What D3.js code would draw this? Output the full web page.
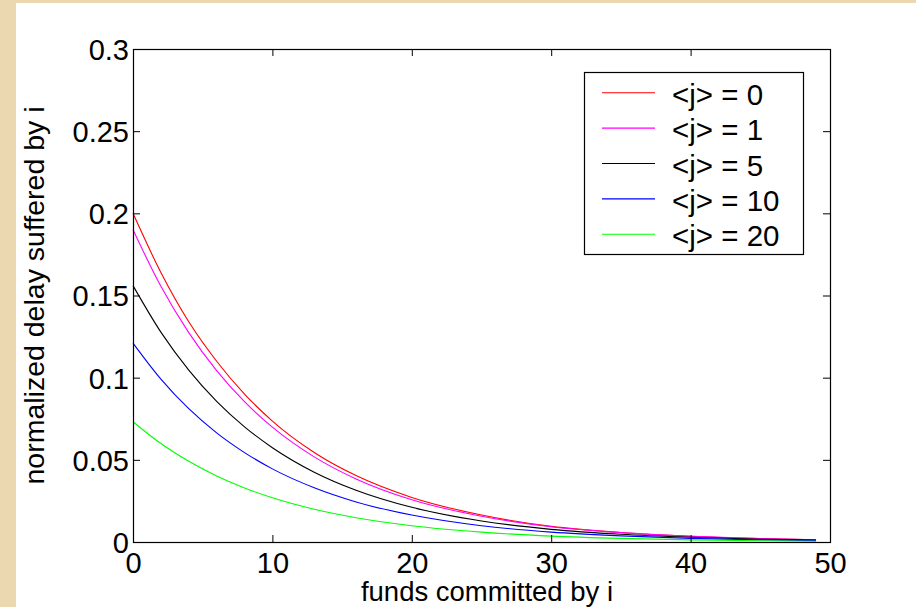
<!DOCTYPE html>
<html>
<head>
<meta charset="utf-8">
<script src="https://cdn.jsdelivr.net/npm/d3@7"></script>
<style>
  html, body { margin: 0; padding: 0; background: #ecd8b0; }
  svg { display: block; }
</style>
</head>
<body>
<div id="chart"></div>
<script>
// x positions of the sampled points (funds committed by i)
const xValues = [0, 2, 4, 6, 8, 10, 13, 16, 20, 25, 30, 35, 40, 45, 49];

// series values
const j0Values  = [0.200, 0.164, 0.134, 0.110, 0.090, 0.0736, 0.0545, 0.0404, 0.0271, 0.0164, 0.0095, 0.0058, 0.0035, 0.0021, 0.0014];
const j1Values  = [0.190, 0.1556, 0.1274, 0.1043, 0.0854, 0.0699, 0.0518, 0.0384, 0.0257, 0.0157, 0.0093, 0.0057, 0.0035, 0.0021, 0.0014];
const j5Values  = [0.156, 0.1277, 0.1046, 0.0856, 0.0701, 0.0574, 0.0425, 0.0315, 0.0211, 0.0128, 0.0077, 0.0047, 0.0029, 0.0017, 0.0012];
const j10Values = [0.121, 0.0991, 0.0811, 0.0664, 0.0544, 0.0445, 0.0330, 0.0244, 0.0164, 0.0099, 0.0060, 0.0037, 0.0022, 0.0013, 0.0009];
const j20Values = [0.0732, 0.0599, 0.0491, 0.0402, 0.0329, 0.0269, 0.0199, 0.0148, 0.0099, 0.0060, 0.0036, 0.0022, 0.0013, 0.0008, 0.0005];

const seriesNames = ['<j> = 0', '<j> = 1', '<j> = 5', '<j> = 10', '<j> = 20'];
const seriesColors = ['#ff0000', '#ff00ff', '#000000', '#0000ff', '#00ff00'];

const xTicks = [0, 10, 20, 30, 40, 50];
const yTicks = [0, 0.05, 0.1, 0.15, 0.2, 0.25, 0.3];
const yTickLabels = ['0', '0.05', '0.1', '0.15', '0.2', '0.25', '0.3'];

const WIDTH = 916;
const HEIGHT = 607;
const FONT = '"Liberation Sans", Arial, Helvetica, sans-serif';
const TICK_LEN = 7;

// plot area
const plot = { left: 133, top: 49, right: 830, bottom: 542 };

const svg = d3.select('#chart').append('svg')
    .attr('width', WIDTH)
    .attr('height', HEIGHT);

// white figure area on the beige page
svg.append('rect')
    .attr('x', 16).attr('y', 3)
    .attr('width', WIDTH - 16).attr('height', HEIGHT - 3)
    .attr('fill', '#ffffff');

const x = d3.scaleLinear().domain([0, 50]).range([plot.left, plot.right]);
const y = d3.scaleLinear().domain([0, 0.3]).range([plot.bottom, plot.top]);

// the curves
const allSeries = [j0Values, j1Values, j5Values, j10Values, j20Values];
const line = d3.line()
    .x((d, i) => x(xValues[i]))
    .y(d => y(d))
    .curve(d3.curveMonotoneX);

svg.append('g')
    .selectAll('path')
    .data(allSeries)
    .join('path')
    .attr('d', d => line(d))
    .attr('fill', 'none')
    .attr('stroke', (d, i) => seriesColors[i])
    .attr('stroke-width', 1.1);

// bottom axis, ticks inward
const xAxis = svg.append('g')
    .attr('transform', `translate(0,${plot.bottom})`)
    .call(d3.axisBottom(x).tickValues(xTicks).tickSizeInner(-TICK_LEN).tickSizeOuter(0).tickPadding(10));
xAxis.select('.domain').remove();
xAxis.selectAll('text').attr('font-size', 29).attr('font-family', FONT).attr('fill', '#000')
    .attr('dy', '0.72em');

// top axis ticks
const xTop = svg.append('g')
    .attr('transform', `translate(0,${plot.top})`)
    .call(d3.axisTop(x).tickValues(xTicks).tickSizeInner(-TICK_LEN).tickSizeOuter(0).tickFormat(''));
xTop.select('.domain').remove();

// left axis
const yAxis = svg.append('g')
    .attr('transform', `translate(${plot.left},0)`)
    .call(d3.axisLeft(y).tickValues(yTicks).tickSizeInner(-TICK_LEN).tickSizeOuter(0)
        .tickPadding(4).tickFormat((d, i) => yTickLabels[i]));
yAxis.select('.domain').remove();
yAxis.selectAll('text').attr('font-size', 29).attr('font-family', FONT).attr('fill', '#000')
    .attr('dy', '0.36em');

// right axis ticks
const yRight = svg.append('g')
    .attr('transform', `translate(${plot.right},0)`)
    .call(d3.axisRight(y).tickValues(yTicks).tickSizeInner(-TICK_LEN).tickSizeOuter(0).tickFormat(''));
yRight.select('.domain').remove();

svg.selectAll('.tick line').attr('stroke', '#000').attr('stroke-width', 1);

// box outline
svg.append('rect')
    .attr('x', plot.left + 0.5).attr('y', plot.top + 0.5)
    .attr('width', plot.right - plot.left).attr('height', plot.bottom - plot.top)
    .attr('fill', 'none')
    .attr('stroke', '#000')
    .attr('stroke-width', 1.2);

// axis labels
svg.append('text')
    .attr('x', 487).attr('y', 601)
    .attr('text-anchor', 'middle')
    .attr('font-family', FONT).attr('font-size', 27.5)
    .text('funds committed by i');

svg.append('text')
    .attr('transform', `translate(44,${(plot.top + plot.bottom) / 2}) rotate(-90)`)
    .attr('text-anchor', 'middle')
    .attr('font-family', FONT).attr('font-size', 28.5)
    .text('normalized delay suffered by i');

// legend
const legend = { left: 584, top: 72, right: 803, bottom: 254 };
svg.append('rect')
    .attr('x', legend.left + 0.5).attr('y', legend.top + 0.5)
    .attr('width', legend.right - legend.left).attr('height', legend.bottom - legend.top)
    .attr('fill', '#fff')
    .attr('stroke', '#000')
    .attr('stroke-width', 1.2);

const legendRows = svg.append('g')
    .selectAll('g')
    .data(seriesNames)
    .join('g')
    .attr('transform', (d, i) => `translate(0,${92.7 + i * 35.4})`);

legendRows.append('line')
    .attr('x1', 602).attr('x2', 655)
    .attr('y1', 0).attr('y2', 0)
    .attr('stroke', (d, i) => seriesColors[i])
    .attr('stroke-width', 1.1);

legendRows.append('text')
    .attr('x', 672).attr('y', 12)
    .attr('font-family', FONT).attr('font-size', 29.5)
    .text(d => d);
</script>
</body>
</html>
